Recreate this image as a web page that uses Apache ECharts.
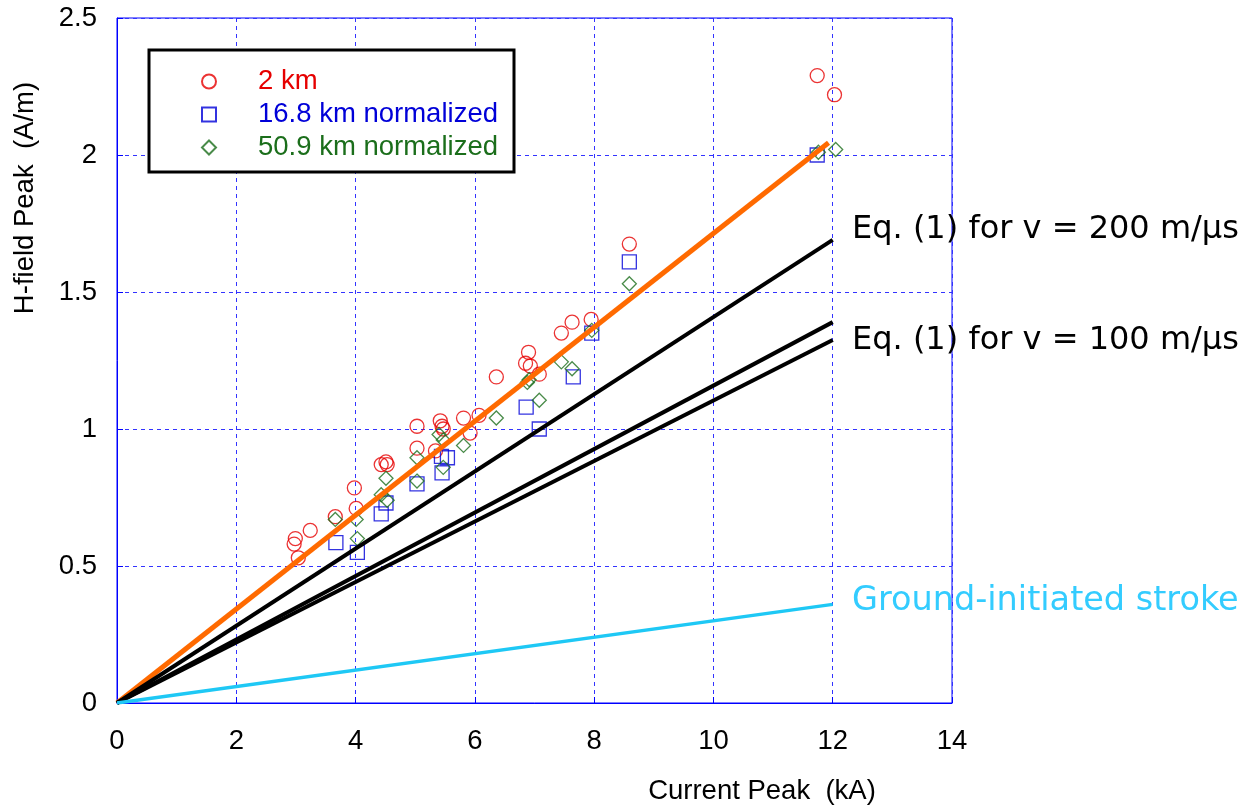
<!DOCTYPE html>
<html>
<head>
<meta charset="utf-8">
<script src="https://cdn.jsdelivr.net/npm/echarts@6/dist/echarts.min.js"></script>
<style>
  html, body { margin: 0; padding: 0; background: #fff; }
  #chart { width: 1255px; height: 807px; }
</style>
</head>
<body>
<div id="chart"></div>
<script>
// 数据：散点 [电流峰值 kA, 磁场峰值 A/m]
var km2 = [
    [2.99, 0.60], [2.97, 0.58], [3.04, 0.53], [3.24, 0.63], [3.66, 0.68],
    [3.98, 0.785], [4.01, 0.71], [4.43, 0.87], [4.51, 0.88], [4.53, 0.87],
    [5.03, 1.01], [5.03, 0.93], [5.34, 0.92], [5.42, 1.03], [5.45, 1.01],
    [5.47, 1.00], [5.81, 1.04], [5.92, 0.985], [6.07, 1.05], [6.36, 1.19],
    [6.85, 1.24], [6.90, 1.28], [6.93, 1.23], [7.08, 1.20], [7.45, 1.35],
    [7.63, 1.39], [7.95, 1.40], [8.59, 1.675], [11.74, 2.29], [12.03, 2.22]
];
var km16 = [
    [3.67, 0.585], [4.03, 0.55], [4.43, 0.69], [4.51, 0.73], [5.03, 0.80],
    [5.44, 0.90], [5.54, 0.895], [5.45, 0.84], [6.86, 1.08], [7.08, 1.00],
    [7.65, 1.19], [7.96, 1.35], [8.59, 1.61], [11.74, 2.00]
];
var km50 = [
    [3.66, 0.67], [4.01, 0.67], [4.03, 0.60], [4.43, 0.76], [4.53, 0.74],
    [4.51, 0.82], [5.03, 0.895], [5.03, 0.81], [5.40, 0.98], [5.47, 0.96],
    [5.47, 0.86], [5.81, 0.94], [6.36, 1.04], [6.88, 1.17], [6.91, 1.18],
    [7.08, 1.105], [7.45, 1.245], [7.63, 1.22], [7.96, 1.36], [8.59, 1.53],
    [11.76, 2.01], [12.05, 2.02]
];
// 拟合线和公式线
var fitLine = [[0, 0], [11.93, 2.045]];
var eq200 = [[0, 0], [12, 1.69]];
var eq100a = [[0, 0], [12, 1.39]];
var eq100b = [[0, 0], [12, 1.325]];
var groundLine = [[0, 0], [12, 0.36]];

var legendNames = ['2 km', '16.8 km normalized', '50.9 km normalized'];
var legendColors = ['#e60000', '#0000d8', '#1b6e1b'];

var chart = echarts.init(document.getElementById('chart'));

var lineSeries = function(name, data, color, width) {
    return {
        name: name,
        type: 'line',
        data: data,
        symbol: 'none',
        z: 5,
        silent: true,
        lineStyle: { color: color, width: width }
    };
};

var scatterSeries = function(name, data, symbol, color) {
    return {
        name: name,
        type: 'scatter',
        data: data,
        symbol: symbol,
        symbolSize: 14,
        z: 3,
        itemStyle: { color: 'rgba(255,255,255,0)', borderColor: color, borderWidth: 1.3 }
    };
};

var option = {
    animation: false,
    grid: {
        left: 117, right: 303, top: 18, bottom: 104,
        show: true, borderColor: '#0000ff', borderWidth: 1
    },
    legend: {
        orient: 'vertical',
        left: 196,
        top: 60,
        itemWidth: 14,
        itemHeight: 14,
        itemGap: 0,
        z: 10,
        data: legendNames.map(function(n, i) {
            return { name: n, textStyle: { color: legendColors[i] } };
        }),
        textStyle: {
            fontFamily: 'Liberation Sans', fontSize: 27.5, lineHeight: 33,
            padding: [0, 0, 0, 37]
        }
    },
    xAxis: {
        type: 'value',
        min: 0, max: 14, interval: 2,
        axisLine: { show: true, lineStyle: { color: '#0000ff', width: 1 } },
        axisTick: { show: true, inside: true, length: 6, lineStyle: { color: '#0000ff' } },
        axisLabel: { color: '#000', fontFamily: 'Liberation Sans', fontSize: 27.5, margin: 24 },
        splitLine: { show: true, lineStyle: { color: '#3333ff', type: [4, 4], width: 1 } }
    },
    yAxis: {
        type: 'value',
        min: 0, max: 2.5, interval: 0.5,
        axisLine: { show: true, lineStyle: { color: '#0000ff', width: 1 } },
        axisTick: { show: true, inside: true, length: 6, lineStyle: { color: '#0000ff' } },
        axisLabel: { color: '#000', fontFamily: 'Liberation Sans', fontSize: 27.5, margin: 20 },
        splitLine: { show: true, lineStyle: { color: '#3333ff', type: [4, 4], width: 1 } }
    },
    graphic: [
        {
            type: 'rect', z: 8,
            shape: { x: 149, y: 50, width: 365, height: 122 },
            style: { fill: '#fff', stroke: '#000', lineWidth: 3 }
        },
        {
            type: 'text', x: 25, y: 198, rotation: Math.PI / 2, z: 10,
            style: {
                text: 'H-field Peak  (A/m)', fill: '#000', font: '27.5px "Liberation Sans"',
                align: 'center', verticalAlign: 'middle'
            }
        },
        {
            type: 'text', x: 762, y: 791, z: 10,
            style: {
                text: 'Current Peak  (kA)', fill: '#000', font: '27.5px "Liberation Sans"',
                align: 'center', verticalAlign: 'middle'
            }
        },
        {
            type: 'text', x: 852, y: 230, z: 10,
            style: { text: 'Eq. (1) for v = 200 m/μs', fill: '#000', font: '32px "DejaVu Sans"', verticalAlign: 'middle' }
        },
        {
            type: 'text', x: 852, y: 341, z: 10,
            style: { text: 'Eq. (1) for v = 100 m/μs', fill: '#000', font: '32px "DejaVu Sans"', verticalAlign: 'middle' }
        },
        {
            type: 'text', x: 852, y: 601, z: 10,
            style: { text: 'Ground-initiated stroke', fill: '#33ccff', font: '33.5px "DejaVu Sans"', verticalAlign: 'middle' }
        }
    ],
    series: [
        scatterSeries(legendNames[0], km2, 'circle', legendColors[0]),
        scatterSeries(legendNames[1], km16, 'rect', legendColors[1]),
        scatterSeries(legendNames[2], km50, 'diamond', legendColors[2]),
        lineSeries('fit', fitLine, '#ff6a00', 5),
        lineSeries('eq200', eq200, '#000', 4),
        lineSeries('eq100a', eq100a, '#000', 4),
        lineSeries('eq100b', eq100b, '#000', 4),
        lineSeries('ground', groundLine, '#1ec8f5', 3.5)
    ]
};

chart.setOption(option);
</script>
</body>
</html>
